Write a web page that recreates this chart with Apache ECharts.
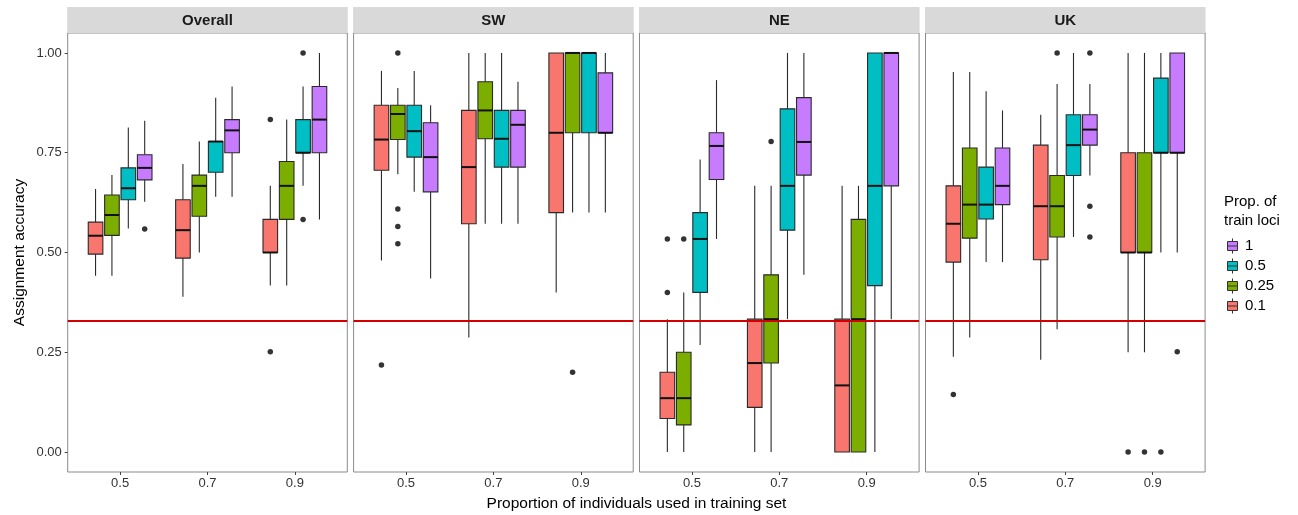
<!DOCTYPE html>
<html>
<head>
<meta charset="utf-8">
<script src="https://cdn.jsdelivr.net/npm/echarts@6/dist/echarts.min.js"></script>
<style>html,body{margin:0;padding:0;background:#fff}#c{width:1298px;height:515px}</style>
</head>
<body>
<div id="c"></div>
<script>
// ---- data ----
const panelNames = ['Overall', 'SW', 'NE', 'UK'];
const xTicks = [0.5, 0.7, 0.9];
const groupNames = ['0.1', '0.25', '0.5', '1'];
const yTicks = [0, 0.25, 0.5, 0.75, 1];
const chanceLevel = 1 / 3;

// per group (0.1, 0.25, 0.5, 1), per x (0.5, 0.7, 0.9): [low, q1, median, q3, high]
const overallStats = [
  [[0.442, 0.496, 0.542, 0.576, 0.659], [0.389, 0.486, 0.556, 0.632, 0.722], [0.417, 0.500, 0.500, 0.583, 0.667]],
  [[0.442, 0.543, 0.594, 0.644, 0.694], [0.500, 0.591, 0.667, 0.694, 0.778], [0.417, 0.583, 0.667, 0.728, 0.833]],
  [[0.560, 0.632, 0.661, 0.712, 0.813], [0.640, 0.701, 0.778, 0.778, 0.888], [0.667, 0.750, 0.750, 0.833, 0.916]],
  [[0.627, 0.682, 0.712, 0.745, 0.830], [0.640, 0.750, 0.806, 0.833, 0.916], [0.583, 0.750, 0.833, 0.916, 1.000]]
];
const swStats = [
  [[0.480, 0.706, 0.783, 0.869, 0.955], [0.287, 0.572, 0.714, 0.856, 1.000], [0.400, 0.600, 0.800, 1.000, 1.000]],
  [[0.696, 0.783, 0.847, 0.869, 0.912], [0.572, 0.785, 0.856, 0.928, 1.000], [0.600, 0.800, 1.000, 1.000, 1.000]],
  [[0.652, 0.739, 0.804, 0.869, 0.955], [0.572, 0.714, 0.785, 0.856, 1.000], [0.600, 0.800, 1.000, 1.000, 1.000]],
  [[0.435, 0.652, 0.739, 0.825, 0.869], [0.572, 0.714, 0.820, 0.856, 0.928], [0.600, 0.800, 0.800, 0.950, 1.000]]
];
const neStats = [
  [[0.000, 0.084, 0.135, 0.200, 0.333], [0.000, 0.112, 0.223, 0.333, 0.667], [0.000, 0.000, 0.167, 0.333, 0.667]],
  [[0.000, 0.068, 0.135, 0.250, 0.400], [0.000, 0.223, 0.333, 0.444, 0.667], [0.000, 0.000, 0.333, 0.583, 0.667]],
  [[0.268, 0.400, 0.534, 0.600, 0.733], [0.333, 0.556, 0.667, 0.860, 1.000], [0.000, 0.417, 0.667, 1.000, 1.000]],
  [[0.534, 0.683, 0.767, 0.800, 0.932], [0.444, 0.694, 0.777, 0.888, 1.000], [0.333, 0.667, 1.000, 1.000, 1.000]]
];
const ukStats = [
  [[0.239, 0.476, 0.572, 0.667, 0.952], [0.231, 0.482, 0.616, 0.769, 0.845], [0.250, 0.500, 0.500, 0.750, 1.000]],
  [[0.287, 0.536, 0.620, 0.762, 0.952], [0.308, 0.539, 0.616, 0.693, 0.922], [0.250, 0.500, 0.500, 0.750, 1.000]],
  [[0.476, 0.584, 0.620, 0.714, 0.904], [0.539, 0.693, 0.769, 0.845, 1.000], [0.500, 0.750, 0.750, 0.937, 1.000]],
  [[0.476, 0.620, 0.667, 0.762, 0.856], [0.693, 0.769, 0.808, 0.845, 0.922], [0.500, 0.750, 0.750, 1.000, 1.000]]
];
// outliers: [x index, group index, value]
const overallOutliers = [[0, 3, 0.559], [2, 0, 0.833], [2, 0, 0.251], [2, 2, 1.0], [2, 2, 0.583]];
const swOutliers = [[0, 0, 0.218], [0, 1, 1.0], [0, 1, 0.609], [0, 1, 0.565], [0, 1, 0.522], [2, 1, 0.2]];
const neOutliers = [[0, 0, 0.534], [0, 0, 0.400], [0, 1, 0.534], [1, 1, 0.778]];
const ukOutliers = [[0, 0, 0.144], [1, 1, 1.0], [1, 3, 1.0], [1, 3, 0.616], [1, 3, 0.539], [2, 0, 0], [2, 1, 0], [2, 2, 0], [2, 3, 0.251]];

const allStats = [overallStats, swStats, neStats, ukStats];
const allOutliers = [overallOutliers, swOutliers, neOutliers, ukOutliers];

// ---- styles / layout ----
const colors = ['#F8766D', '#7CAE00', '#00BFC4', '#C77CFF'];
const FONT = '"Liberation Sans", Arial, Helvetica, sans-serif';
const panelLefts = [67.7, 353.6, 639.5, 925.5];
const panelWidth = 279.6;
const panelTop = 33;
const panelHeight = 439;
const xStep = xTicks[1] - xTicks[0];
const xMin = xTicks[0] - 0.6 * xStep, xMax = xTicks[2] + 0.6 * xStep;
const dodge = 0.75 * xStep / groupNames.length;
const offsets = groupNames.map((g, i) => (i - (groupNames.length - 1) / 2) * dodge);
const HALF_BOX = 7.3;

function renderBox(color) {
  return function (params, api) {
    const x = api.value(0);
    const lo = api.coord([x, api.value(1)]);
    const q1 = api.coord([x, api.value(2)]);
    const md = api.coord([x, api.value(3)]);
    const q3 = api.coord([x, api.value(4)]);
    const hi = api.coord([x, api.value(5)]);
    const cx = lo[0];
    const ls = { stroke: '#2a2a2a', lineWidth: 1.1 };
    return {
      type: 'group',
      children: [
        { type: 'line', shape: { x1: cx, y1: hi[1], x2: cx, y2: q3[1] }, style: ls },
        { type: 'line', shape: { x1: cx, y1: q1[1], x2: cx, y2: lo[1] }, style: ls },
        { type: 'rect', shape: { x: cx - HALF_BOX, y: q3[1], width: 2 * HALF_BOX, height: Math.max(q1[1] - q3[1], 0.5) },
          style: { fill: color, stroke: '#2a2a2a', lineWidth: 1.1 } },
        { type: 'line', shape: { x1: cx - HALF_BOX, y1: md[1], x2: cx + HALF_BOX, y2: md[1] },
          style: { stroke: '#111111', lineWidth: 2 } }
      ]
    };
  };
}

const grids = [], xAxes = [], yAxes = [], series = [], graphics = [];
panelNames.forEach((name, p) => {
  grids.push({ left: panelLefts[p], top: panelTop, width: panelWidth, height: panelHeight,
    show: true, borderColor: '#8a8a8a', borderWidth: 1, backgroundColor: '#fff' });
  xAxes.push({
    type: 'value', gridIndex: p, min: xMin, max: xMax, position: 'bottom',
    axisLine: { show: false, onZero: false }, splitLine: { show: false },
    axisTick: { show: true, length: 3, customValues: xTicks, lineStyle: { color: '#444' } },
    axisLabel: { customValues: xTicks, formatter: v => v.toFixed(1), fontSize: 13, color: '#333', margin: 5, fontFamily: FONT }
  });
  yAxes.push({
    type: 'value', gridIndex: p, min: -0.05, max: 1.05, position: 'left',
    axisLine: { show: false, onZero: false }, splitLine: { show: false },
    axisTick: { show: p === 0, length: 3, customValues: yTicks, lineStyle: { color: '#444' } },
    axisLabel: { show: p === 0, customValues: yTicks, formatter: v => v.toFixed(2), fontSize: 13, color: '#333', margin: 6, fontFamily: FONT }
  });
  groupNames.forEach((g, gi) => {
    series.push({
      type: 'custom', name: g, xAxisIndex: p, yAxisIndex: p, z: 2,
      itemStyle: { color: colors[gi] },
      encode: { x: 0, y: [1, 2, 3, 4, 5] },
      renderItem: renderBox(colors[gi]),
      data: xTicks.map((x, xi) => [x + offsets[gi]].concat(allStats[p][gi][xi]))
    });
  });
  series.push({
    type: 'scatter', name: 'outliers', xAxisIndex: p, yAxisIndex: p, z: 5,
    symbolSize: 5.5, itemStyle: { color: '#000' }, silent: true,
    data: allOutliers[p].map(o => [xTicks[o[0]] + offsets[o[1]], o[2]]),
    markLine: {
      silent: true, symbol: 'none', label: { show: false },
      lineStyle: { color: '#D40000', width: 2, type: 'solid' },
      data: [{ yAxis: chanceLevel }]
    }
  });
  graphics.push({ type: 'rect', left: panelLefts[p] - 0.5, top: 7, z: 1,
    shape: { width: panelWidth + 1, height: 26 }, style: { fill: '#D9D9D9' } });
  graphics.push({ type: 'text', x: panelLefts[p] + panelWidth / 2, y: 20.5, z: 2,
    style: { text: name, font: 'bold 15px ' + FONT, fill: '#1a1a1a', align: 'center', verticalAlign: 'middle' } });
});

graphics.push({ type: 'text', x: 636.5, y: 504, style: { text: 'Proportion of individuals used in training set',
  font: '15.5px ' + FONT, fill: '#000', align: 'center', verticalAlign: 'middle' } });
graphics.push({ type: 'text', x: 20, y: 252.5, rotation: Math.PI / 2, style: { text: 'Assignment accuracy',
  font: '15.5px ' + FONT, fill: '#000', align: 'center', verticalAlign: 'middle' } });
graphics.push({ type: 'text', x: 1224, y: 211.5, style: { text: 'Prop. of\ntrain loci',
  font: '15px ' + FONT, fill: '#000', align: 'left', verticalAlign: 'middle', lineHeight: 19 } });

const chart = echarts.init(document.getElementById('c'), null, { renderer: 'canvas' });
chart.setOption({
  backgroundColor: '#fff',
  animation: false,
  grid: grids, xAxis: xAxes, yAxis: yAxes, series: series,
  graphic: graphics,
  legend: {
    data: groupNames.slice().reverse(),
    orient: 'vertical', left: 1222, top: 233,
    itemWidth: 11, itemHeight: 15, itemGap: 4,
    icon: 'path://M5,0 L5,3 M0,3 L10,3 L10,12 L0,12 Z M0,7.5 L10,7.5 M5,12 L5,15',
    itemStyle: { borderColor: '#333', borderWidth: 1 },
    textStyle: { fontSize: 15, lineHeight: 15, color: '#000', fontFamily: FONT, padding: [0, 0, 0, 2] },
    selectedMode: false
  }
});
</script>
</body>
</html>
